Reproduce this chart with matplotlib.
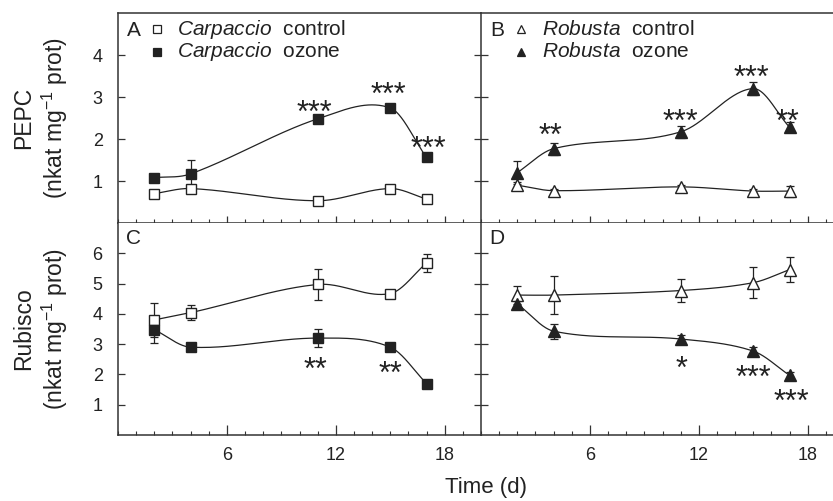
import numpy as np
import matplotlib
matplotlib.use('agg')
import matplotlib.pyplot as plt
from matplotlib.ticker import FixedLocator, MultipleLocator
from matplotlib.transforms import offset_copy

plt.rcParams['font.family'] = ['Liberation Sans', 'DejaVu Sans']
plt.rcParams['mathtext.fontset'] = 'custom'
plt.rcParams['mathtext.rm'] = 'Liberation Sans'
plt.rcParams['mathtext.it'] = 'Liberation Sans:italic'

# sampling days
days = [2, 4, 11, 15, 17]

# PEPC (nkat mg-1 prot)
pepc_carp_ctrl = [0.70, 0.82, 0.53, 0.82, 0.57]
pepc_carp_ctrl_err = [0.05, 0.08, 0.05, 0.05, 0.05]
pepc_carp_ozone = [1.08, 1.17, 2.48, 2.74, 1.56]
pepc_carp_ozone_err = [0.05, 0.33, 0.05, 0.05, 0.05]
pepc_rob_ctrl = [0.90, 0.77, 0.86, 0.76, 0.76]
pepc_rob_ctrl_err = [0.08, 0.05, 0.05, 0.05, 0.13]
pepc_rob_ozone = [1.20, 1.77, 2.17, 3.20, 2.28]
pepc_rob_ozone_err = [0.28, 0.14, 0.15, 0.15, 0.12]

# Rubisco (nkat mg-1 prot)
rub_carp_ctrl = [3.80, 4.04, 4.97, 4.67, 5.68]
rub_carp_ctrl_err = [0.55, 0.25, 0.50, 0.08, 0.30]
rub_carp_ozone = [3.48, 2.90, 3.20, 2.90, 1.70]
rub_carp_ozone_err = [0.45, 0.12, 0.30, 0.08, 0.05]
rub_rob_ctrl = [4.62, 4.62, 4.77, 5.03, 5.46]
rub_rob_ctrl_err = [0.30, 0.62, 0.38, 0.51, 0.41]
rub_rob_ozone = [4.33, 3.43, 3.17, 2.77, 1.97]
rub_rob_ozone_err = [0.08, 0.25, 0.12, 0.12, 0.10]

# significance marks: (day, y, text)
stars_a = [(10.8, 2.84, '***'), (14.9, 3.26, '***'), (17.1, 1.96, '***')]
stars_b = [(3.8, 2.27, '**'), (11.0, 2.62, '***'), (14.9, 3.66, '***'), (16.9, 2.62, '**')]
stars_c = [(10.9, 2.44, '**'), (15.0, 2.31, '**')]
stars_d = [(11.05, 2.48, '*'), (15.0, 2.18, '***'), (17.1, 1.39, '***')]


def smooth_curve(x, y, num=60):
    # piecewise cubic Hermite with centred-difference tangents
    x = np.asarray(x, float)
    y = np.asarray(y, float)
    n = len(x)
    m = np.zeros(n)
    m[0] = (y[1] - y[0]) / (x[1] - x[0])
    m[-1] = (y[-1] - y[-2]) / (x[-1] - x[-2])
    for i in range(1, n - 1):
        m[i] = (y[i + 1] - y[i - 1]) / (x[i + 1] - x[i - 1])
    xs_all, ys_all = [], []
    for i in range(n - 1):
        h = x[i + 1] - x[i]
        t = np.linspace(0, 1, num)
        h00 = 2 * t**3 - 3 * t**2 + 1
        h10 = t**3 - 2 * t**2 + t
        h01 = -2 * t**3 + 3 * t**2
        h11 = t**3 - t**2
        xs_all.append(x[i] + t * h)
        ys_all.append(h00 * y[i] + h10 * h * m[i] + h01 * y[i + 1] + h11 * h * m[i + 1])
    return np.concatenate(xs_all), np.concatenate(ys_all)


fig = plt.figure(figsize=(8.33, 5.01), dpi=100)
W, H = 833.0, 501.0
x_left, x_right, pw = 118, 481, 363
top_y0, top_y1 = 13, 223
bot_y1 = 435

ax_a = fig.add_axes([x_left / W, 1 - top_y1 / H, pw / W, (top_y1 - top_y0) / H])
ax_b = fig.add_axes([x_right / W, 1 - top_y1 / H, pw / W, (top_y1 - top_y0) / H])
ax_c = fig.add_axes([x_left / W, 1 - bot_y1 / H, pw / W, (bot_y1 - top_y1) / H])
ax_d = fig.add_axes([x_right / W, 1 - bot_y1 / H, pw / W, (bot_y1 - top_y1) / H])

ink = '#222222'
spine_c = '#333333'


def draw_series(ax, y, err, marker, filled, ms):
    xs, ys = smooth_curve(days, y)
    ax.plot(xs, ys, color=ink, lw=0.9, zorder=2)
    ax.errorbar(days, y, yerr=err, fmt='none', ecolor=ink, elinewidth=0.9,
                capsize=3, capthick=0.9, zorder=3)
    ax.plot(days, y, linestyle='none', marker=marker, ms=ms,
            mfc=ink if filled else 'white', mec=ink, mew=1.0, zorder=4)


draw_series(ax_a, pepc_carp_ctrl, pepc_carp_ctrl_err, 's', False, 7.5)
draw_series(ax_a, pepc_carp_ozone, pepc_carp_ozone_err, 's', True, 7.5)
draw_series(ax_b, pepc_rob_ctrl, pepc_rob_ctrl_err, '^', False, 8.5)
draw_series(ax_b, pepc_rob_ozone, pepc_rob_ozone_err, '^', True, 8.5)
draw_series(ax_c, rub_carp_ctrl, rub_carp_ctrl_err, 's', False, 7.5)
draw_series(ax_c, rub_carp_ozone, rub_carp_ozone_err, 's', True, 7.5)
draw_series(ax_d, rub_rob_ctrl, rub_rob_ctrl_err, '^', False, 8.5)
draw_series(ax_d, rub_rob_ozone, rub_rob_ozone_err, '^', True, 8.5)

star_fs = 22
for ax, stars in [(ax_a, stars_a), (ax_b, stars_b), (ax_c, stars_c), (ax_d, stars_d)]:
    tr = offset_copy(ax.transData, fig=fig, x=0, y=-0.58 * star_fs, units='points')
    for sx, sy, s in stars:
        ax.text(sx, sy, s, transform=tr, ha='center', va='baseline',
                fontsize=star_fs, color=ink, zorder=5)

for ax, top in [(ax_a, True), (ax_b, True), (ax_c, False), (ax_d, False)]:
    left_panel = ax in (ax_a, ax_c)
    ax.set_xlim(0, 20)
    if top:
        ax.set_ylim(0, 5)
        ax.yaxis.set_major_locator(FixedLocator([1, 2, 3, 4]))
    else:
        ax.set_ylim(0, 7)
        ax.yaxis.set_major_locator(FixedLocator([1, 2, 3, 4, 5, 6]))
    ax.xaxis.set_major_locator(FixedLocator([6, 12, 18]))
    ax.xaxis.set_minor_locator(MultipleLocator(1))
    for side in ['left', 'bottom', 'top']:
        ax.spines[side].set_linewidth(1.1)
        ax.spines[side].set_color(spine_c)
    ax.spines['right'].set_visible(False)
    if not top:
        ax.spines['top'].set_visible(False)
    ax.tick_params(axis='both', colors=spine_c, labelcolor=ink, width=0.9, labelsize=13)
    if top:
        ax.tick_params(axis='x', which='major', direction='inout', length=10,
                       labelbottom=False)
    else:
        ax.tick_params(axis='x', which='major', direction='in', length=7, pad=9)
    ax.tick_params(axis='x', which='minor', direction='in', length=3, width=0.8,
                   colors=spine_c)
    if left_panel:
        ax.tick_params(axis='y', direction='in', length=5, pad=11)
    else:
        ax.tick_params(axis='y', direction='inout', length=9.5, labelleft=False)

# panel letters and keys
keys = [
    (ax_a, 'A', 's', 'Carpaccio'),
    (ax_b, 'B', '^', 'Robusta'),
]
for ax, letter, marker, name in keys:
    ax.text(0.044, 0.915, letter, transform=ax.transAxes, ha='center', va='center',
            fontsize=15, color=ink)
    mx = 0.107 if marker == 's' else 0.110
    tx = 0.163 if marker == 's' else 0.168
    for ky, filled, lab in [(0.922, False, 'control'), (0.815, True, 'ozone')]:
        ax.plot([mx], [ky], transform=ax.transAxes, marker=marker, ms=5.5,
                mfc=ink if filled else 'white', mec=ink, mew=0.9, clip_on=False)
        ax.text(tx, ky, r'$\mathit{%s}$  %s' % (name, lab), transform=ax.transAxes,
                ha='left', va='center', fontsize=15, color=ink)

ax_c.text(0.044, 0.929, 'C', transform=ax_c.transAxes, ha='center', va='center',
          fontsize=15, color=ink)
ax_d.text(0.044, 0.929, 'D', transform=ax_d.transAxes, ha='center', va='center',
          fontsize=15, color=ink)

# axis titles
fig.text(24 / W, 1 - 118 / H, 'PEPC', rotation=90, ha='center', va='center',
         fontsize=16.5, color=ink)
fig.text(55 / W, 1 - 118 / H, '(nkat mg$^{-1}$ prot)', rotation=90, ha='center',
         va='center', fontsize=16.5, color=ink)
fig.text(24 / W, 1 - 329 / H, 'Rubisco', rotation=90, ha='center', va='center',
         fontsize=16.5, color=ink)
fig.text(55 / W, 1 - 329 / H, '(nkat mg$^{-1}$ prot)', rotation=90, ha='center',
         va='center', fontsize=16.5, color=ink)
fig.text(486 / W, 1 - 488 / H, 'Time (d)', ha='center', va='center',
         fontsize=16, color=ink)

plt.savefig('out.png', dpi=100)
